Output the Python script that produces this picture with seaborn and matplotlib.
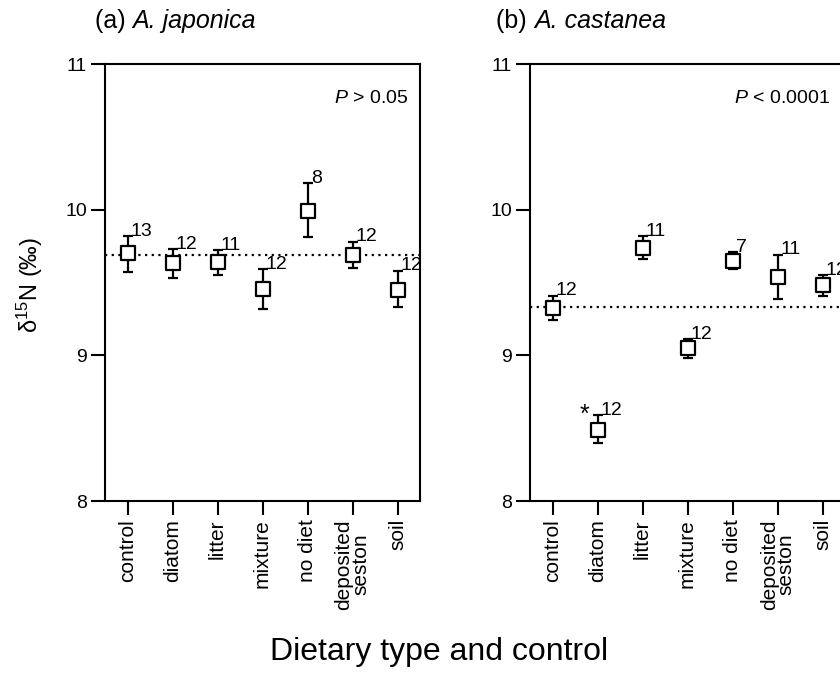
import numpy as np
import pandas as pd
import matplotlib
matplotlib.use("Agg")
import matplotlib.pyplot as plt
import seaborn as sns

categories = ["control", "diatom", "litter", "mixture", "no diet", "deposited\nseston", "soil"]

mean_a = [9.70, 9.635, 9.64, 9.455, 9.99, 9.69, 9.45]
upper_a = [9.82, 9.73, 9.72, 9.59, 10.18, 9.78, 9.58]
lower_a = [9.57, 9.53, 9.55, 9.32, 9.81, 9.60, 9.33]
n_a = [13, 12, 11, 12, 8, 12, 12]
ref_a = 9.69

mean_b = [9.325, 8.49, 9.74, 9.05, 9.65, 9.54, 9.48]
upper_b = [9.41, 8.59, 9.82, 9.11, 9.71, 9.69, 9.55]
lower_b = [9.24, 8.40, 9.66, 8.98, 9.59, 9.39, 9.41]
n_b = [12, 12, 11, 12, 7, 11, 12]
ref_b = 9.33

title_prefix = ["(a) ", "(b) "]
species = ["A. japonica", "A. castanea"]
p_texts = [r"$\mathit{P}$ > 0.05", r"$\mathit{P}$ < 0.0001"]
star_flags_b = ["", "*", "", "", "", "", ""]
yticks = [8, 9, 10, 11]

sns.set_style("ticks")
plt.rcParams["font.family"] = ["Liberation Sans", "DejaVu Sans"]
plt.rcParams["mathtext.fontset"] = "custom"
plt.rcParams["mathtext.rm"] = "Liberation Sans"
plt.rcParams["mathtext.it"] = "Liberation Sans:italic"
plt.rcParams["text.color"] = "black"
plt.rcParams["axes.labelcolor"] = "black"
plt.rcParams["xtick.color"] = "black"
plt.rcParams["ytick.color"] = "black"
plt.rcParams["axes.edgecolor"] = "black"

fig = plt.figure(figsize=(8.4, 6.92), dpi=100)
ax_a = fig.add_axes([0.125, 0.276, 0.375, 0.6315])
ax_b = fig.add_axes([0.631, 0.276, 0.375, 0.6315])

panels = [
    (ax_a, mean_a, upper_a, lower_a, n_a, ref_a, ["" for _ in categories]),
    (ax_b, mean_b, upper_b, lower_b, n_b, ref_b, star_flags_b),
]

for i, (ax, m, up, lo, n, ref, stars) in enumerate(panels):
    df = pd.DataFrame({"cat": categories, "mean": m, "up": up, "lo": lo, "n": n})
    df["x"] = np.arange(len(df))
    ax.axhline(ref, color="black", linestyle=(0, (1, 2)), linewidth=1.6, zorder=1)
    ax.errorbar(df["x"], df["mean"],
                yerr=[df["mean"] - df["lo"], df["up"] - df["mean"]],
                fmt="none", ecolor="black", elinewidth=1.6, capsize=3.5, capthick=1.6, zorder=2)
    sns.scatterplot(data=df, x="x", y="mean", marker="s", s=115, facecolor="white",
                    edgecolor="black", linewidth=1.6, ax=ax, zorder=3, legend=False)
    for xi, yi, ni, st in zip(df["x"], df["up"], df["n"], stars):
        ax.text(xi + 0.07, yi - 0.025, str(ni), fontsize=14, ha="left", va="bottom",
                clip_on=False, zorder=4)
        if st:
            ax.text(xi - 0.18, yi - 0.08, st, fontsize=18, ha="right", va="bottom", zorder=4)
    ax.set_xlim(-0.5, len(categories) - 0.5)
    ax.set_ylim(8, 11)
    ax.set_yticks(yticks)
    ax.set_yticklabels([str(t) for t in yticks], fontsize=14)
    ax.set_xticks(df["x"])
    ax.set_xticklabels(categories, rotation=90, fontsize=15, linespacing=0.85)
    ax.set_xlabel("")
    ax.set_ylabel("")
    for sp in ax.spines.values():
        sp.set_visible(True)
        sp.set_linewidth(1.5)
    ax.tick_params(direction="out", length=10, width=1.5, pad=3, colors="black")
    ax.text(0.962 if i == 0 else 0.952, 0.91, p_texts[i], transform=ax.transAxes,
            ha="right", va="baseline", fontsize=14)

for x0, pre, sp_name in zip([0.113, 0.591], title_prefix, species):
    t = fig.text(x0, 0.9595, pre, fontsize=18, ha="left", va="baseline")
    fig.canvas.draw()
    bb = t.get_window_extent()
    fig.text(bb.x1 / fig.bbox.width, 0.9595, sp_name, fontsize=18, fontstyle="italic",
             ha="left", va="baseline")

fig.text(0.036, 0.588, r"δ$^{15}$N (‰)", rotation=90, fontsize=17, ha="center", va="center")
fig.text(0.523, 0.058, "Dietary type and control", fontsize=23, ha="center", va="center")

fig.savefig("out.png", dpi=100)
